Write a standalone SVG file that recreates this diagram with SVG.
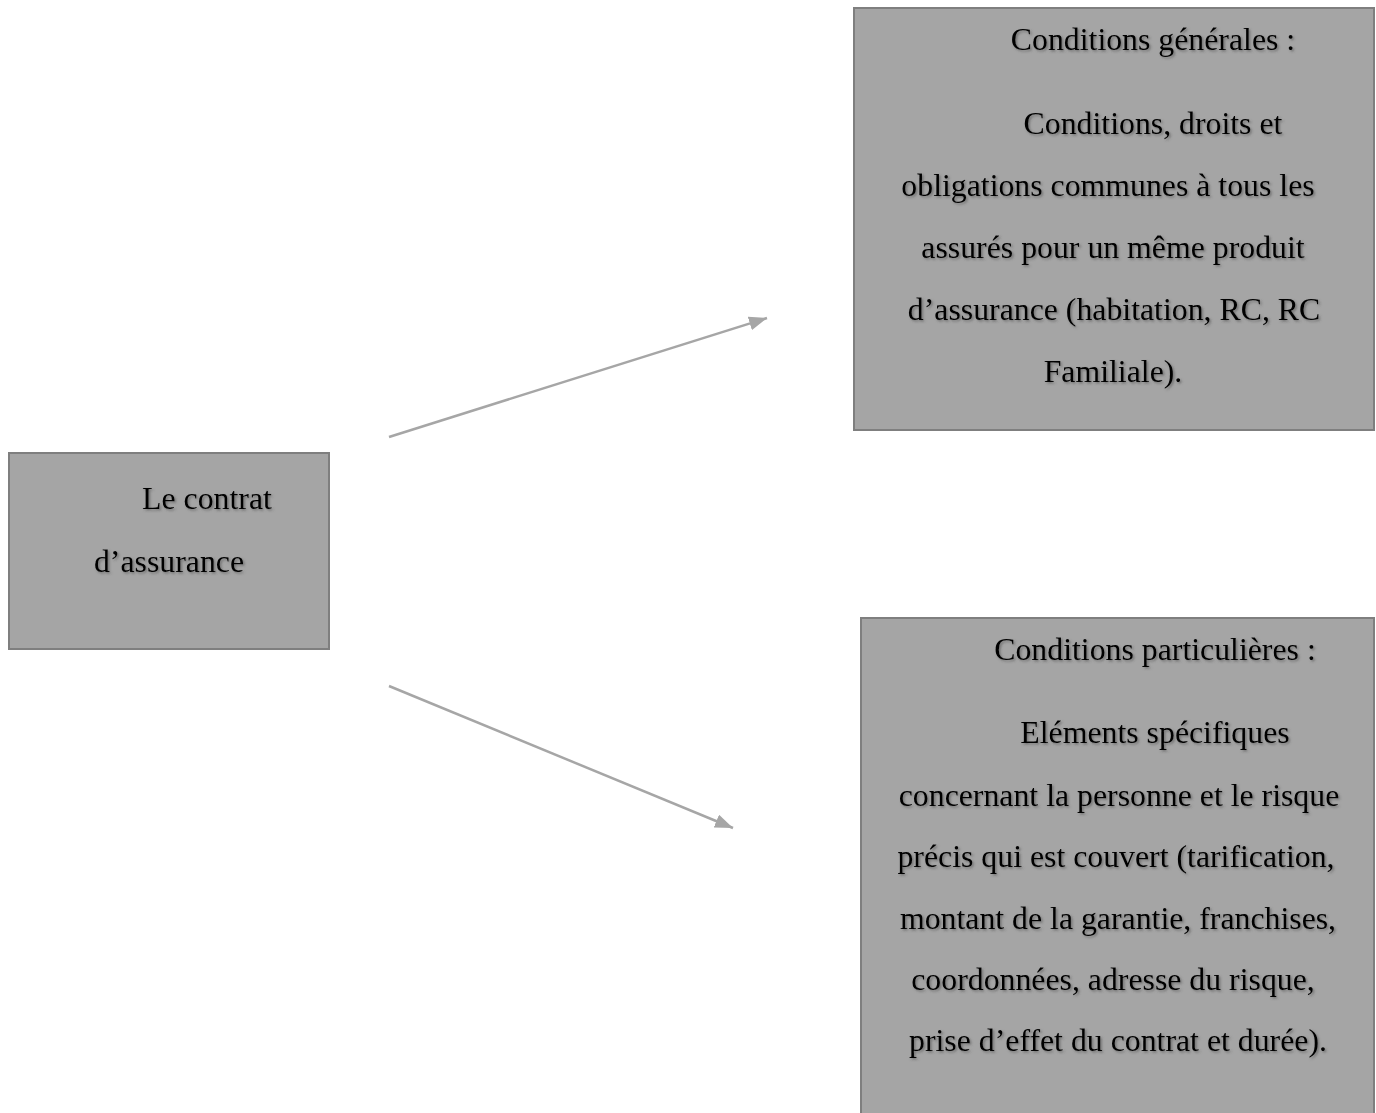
<svg xmlns="http://www.w3.org/2000/svg" width="1376" height="1113" viewBox="0 0 1376 1113">
<style>
.box{fill:#a5a5a5;stroke:#7f7f7f;stroke-width:2}
.t{font-family:"Liberation Serif","Times New Roman",serif;font-size:31.8px;fill:#000;text-anchor:middle;filter:url(#sh)}
.c{stroke:#a6a6a6;stroke-width:2.5;fill:none;marker-end:url(#ah)}
</style>
<defs>
<filter id="sh" x="-10%" y="-30%" width="120%" height="160%">
<feDropShadow dx="1.5" dy="1.5" stdDeviation="1.2" flood-color="#444" flood-opacity="0.55"/>
</filter>
<marker id="ah" markerUnits="userSpaceOnUse" markerWidth="18" markerHeight="14" refX="18" refY="7" orient="auto">
<path d="M0,0 L18,7 L0,14 z" fill="#a6a6a6"/>
</marker>
</defs>
<rect width="1376" height="1113" fill="#fff"/>
<g id="connectors">
<line class="c" x1="389" y1="437" x2="767" y2="318"/>
<line class="c" x1="389" y1="686" x2="733" y2="828"/>
</g>
<g id="contrat">
<rect class="box" x="9" y="453" width="320" height="196"/>
<text class="t" x="207" y="509">Le contrat</text>
<text class="t" x="169" y="572">d’assurance</text>
</g>
<g id="generales">
<rect class="box" x="854" y="8" width="520" height="422"/>
<text class="t" x="1153" y="50">Conditions générales :</text>
<text class="t" x="1153" y="134">Conditions, droits et</text>
<text class="t" x="1108" y="196">obligations communes à tous les</text>
<text class="t" x="1113" y="258">assurés pour un même produit</text>
<text class="t" x="1114" y="320">d’assurance (habitation, RC, RC</text>
<text class="t" x="1113" y="382">Familiale).</text>
</g>
<g id="particulieres">
<rect class="box" x="861" y="618" width="513" height="510"/>
<text class="t" x="1155" y="660">Conditions particulières :</text>
<text class="t" x="1155" y="743">Eléments spécifiques</text>
<text class="t" x="1119" y="806">concernant la personne et le risque</text>
<text class="t" x="1116" y="867">précis qui est couvert (tarification,</text>
<text class="t" x="1118" y="929">montant de la garantie, franchises,</text>
<text class="t" x="1113" y="990">coordonnées, adresse du risque,</text>
<text class="t" x="1118" y="1051">prise d’effet du contrat et durée).</text>
</g>
</svg>
